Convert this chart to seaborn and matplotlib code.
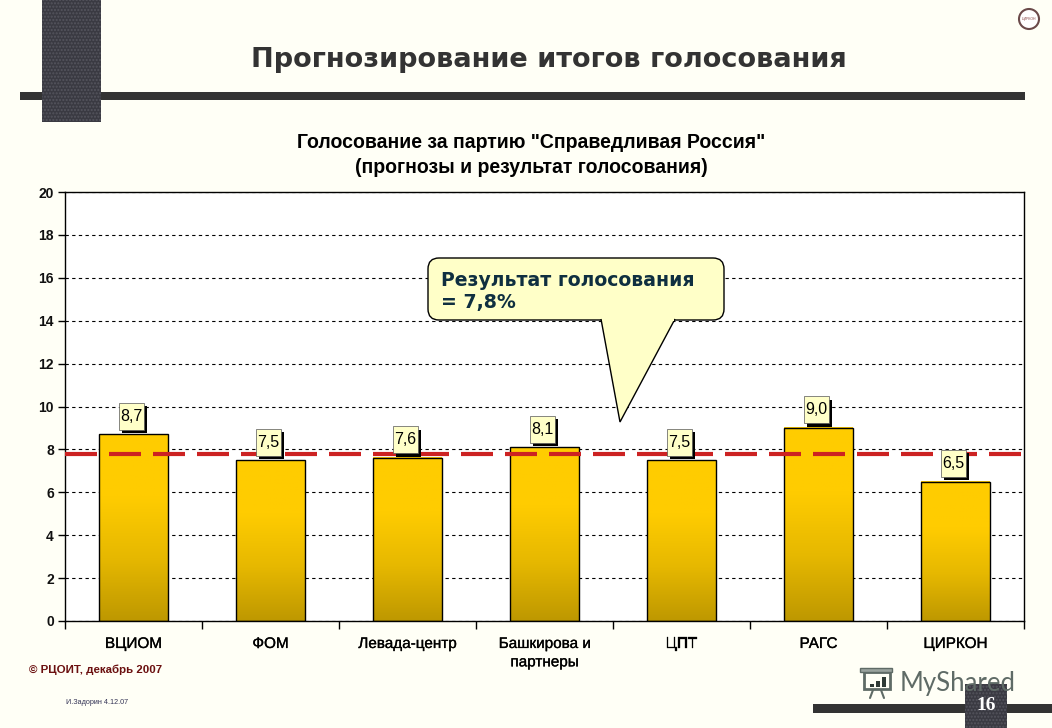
import numpy as np
import matplotlib
matplotlib.use("Agg")
import matplotlib.pyplot as plt
import matplotlib.patheffects as pe
from matplotlib.colors import LinearSegmentedColormap
from matplotlib.path import Path
from matplotlib.patches import Rectangle, FancyBboxPatch, Polygon, Circle
import seaborn as sns

#data
agencies = ["ВЦИОМ", "ФОМ", "Левада-центр", "Башкирова и\nпартнеры", "ЦПТ", "РАГС", "ЦИРКОН"]
forecasts = [8.7, 7.5, 7.6, 8.1, 7.5, 9.0, 6.5]
labels = ["8,7", "7,5", "7,6", "8,1", "7,5", "9,0", "6,5"]
vote_result = 7.8
y_ticks = [0, 2, 4, 6, 8, 10, 12, 14, 16, 18, 20]

#colours
bg = "#FFFFF6"
dark = "#333333"
note = "#FFFFC8"

sns.set_theme(style="white")
plt.rcParams["font.family"] = ["Liberation Sans", "DejaVu Sans"]


#label box, a bit taller than the text (size in pixels)
def label_box(x0, y0, width, height, mutation_size):
    cx, cy = x0 + width / 2, y0 + height / 2
    hw, hh = 12.5, 13.5
    return Path([(cx - hw, cy - hh), (cx + hw, cy - hh), (cx + hw, cy + hh),
                 (cx - hw, cy + hh), (cx - hw, cy - hh)], closed=True)


fig = plt.figure(figsize=(10.52, 7.28), dpi=100, facecolor=bg)
ax = fig.add_axes([65 / 1052, 107 / 728, 959 / 1052, 429 / 728], facecolor="white")

#bars
sns.barplot(x=agencies, y=forecasts, width=0.5, ax=ax, fill=False,
            edgecolor="black", linewidth=1, err_kws={"linewidth": 0})
ax.set_xlim(-0.5, 6.5)
ax.set_ylim(0, 20)

#gradient inside each bar
gold = LinearSegmentedColormap.from_list("gold", ["#BE9800", "#E6B800", "#FFCC00", "#FFCC00"])
grad = np.linspace(0, 1, 128).reshape(-1, 1)
for bar in ax.patches:
    x0, w, h = bar.get_x(), bar.get_width(), bar.get_height()
    ax.imshow(grad, cmap=gold, origin="lower", aspect="auto",
              extent=[x0, x0 + w, 0, h], zorder=2.5)
    bar.set_zorder(3)
ax.set_xlim(-0.5, 6.5)
ax.set_ylim(0, 20)

#axes
ax.set_yticks(y_ticks)
ax.set_xticks(np.arange(-0.5, 7), minor=True)
ax.tick_params(axis="x", which="minor", bottom=True, length=6, width=1, color="black")
ax.tick_params(axis="x", which="major", bottom=False, length=0, pad=11.5, labelsize=11)
ax.tick_params(axis="y", left=True, length=5, width=1, color="black", pad=3, labelsize=10)
for t in ax.get_yticklabels():
    t.set_fontweight("bold")
    t.set_color("#111111")
thick = [pe.withStroke(linewidth=0.2, foreground="black")]
for t in ax.get_xticklabels():
    t.set_color("black")
    t.set_linespacing(1.4)
    t.set_path_effects(thick)
ax.yaxis.grid(True, linestyle=(0, (3, 3)), color="black", linewidth=0.8)
ax.set_axisbelow(True)
for s in ax.spines.values():
    s.set_color("black")
    s.set_linewidth(1)
    s.set_visible(True)

#voting result line
ax.axhline(vote_result - 0.03, color="#CC2222", linewidth=3, linestyle=(0, (7.68, 2.88)), zorder=4)

#value labels
for i, (v, lab) in enumerate(zip(forecasts, labels)):
    a = ax.annotate(lab, (i - 0.015, v), xytext=(0, 13), textcoords="offset points",
                    ha="center", va="center", fontsize=11.5, color="black", zorder=6,
                    bbox=dict(boxstyle=label_box, fc=note, ec="#555555", lw=0.5))
    a.get_bbox_patch().set_path_effects([
        pe.SimplePatchShadow(offset=(2.5, -2.5), shadow_rgbFace="black", alpha=1),
        pe.Normal()])

ax.set_xlabel("")
ax.set_ylabel("")

#slide decoration in pixel coordinates
deco = fig.add_axes([0, 0, 1, 1], facecolor="none")
deco.set_xlim(0, 1052)
deco.set_ylim(728, 0)
deco.axis("off")

deco.add_patch(Rectangle((20, 92), 1005, 8, fc=dark, ec="none"))
deco.add_patch(Rectangle((42, 0), 59, 122, fc="#3A3A42", ec="#55555E", lw=0, hatch="....."))
deco.text(549, 60, "Прогнозирование итогов голосования", ha="center", va="center",
          fontsize=19.5, fontweight="bold", color=dark, family=["DejaVu Sans"])
deco.text(531, 155, 'Голосование за партию "Справедливая Россия"\n(прогнозы и результат голосования)',
          ha="center", va="center", fontsize=14.05, fontweight="bold", color="black",
          linespacing=1.45, family=["Liberation Sans"])

#callout
deco.add_patch(FancyBboxPatch((428, 258), 296, 62, boxstyle="round,pad=0,rounding_size=11",
                              fc=note, ec="black", lw=1))
deco.add_patch(Polygon([(601, 319), (620, 422), (675, 319)], closed=False, fc=note, ec="black", lw=1))
deco.add_patch(Rectangle((602, 317), 72, 4, fc=note, ec="none"))
deco.text(441, 291.5, "Результат голосования\n= 7,8%", ha="left", va="center", fontsize=13.6,
          fontweight="bold", color="#0F2F40", linespacing=1.25, family=["DejaVu Sans"])

#footer
deco.text(29, 670, "© РЦОИТ, декабрь 2007", ha="left", va="center", fontsize=8.25,
          fontweight="bold", color="#6B1010")
deco.text(66, 703, "И.Задорин 4.12.07", ha="left", va="center", fontsize=5.2, color="#333355")

#watermark
wm = "#5F6B66"
deco.text(900, 683, "MyShared", ha="left", va="center", fontsize=18.5, color=wm, family=["Lato"])
deco.add_patch(Rectangle((864, 672), 26, 17, fc="none", ec=wm, lw=2))
deco.add_patch(Rectangle((860, 668), 32, 4, fc="#9AA39E", ec=wm, lw=1))
for bx, bh in zip([870, 876, 882], [3, 6, 10]):
    deco.add_patch(Rectangle((bx, 687 - bh), 4, bh, fc="#2F3A35", ec="none"))
deco.plot([873, 870], [690, 698], color=wm, lw=1.5)
deco.plot([881, 884], [690, 698], color=wm, lw=1.5)

deco.add_patch(Rectangle((813, 704), 239, 9, fc=dark, ec="none"))
deco.add_patch(Rectangle((965, 684), 42, 44, fc="#3A3A42", ec="#55555E", lw=0, hatch="....."))
deco.text(986, 706, "16", ha="center", va="center", fontsize=14, fontweight="bold",
          color="white", family=["Liberation Serif"])

#logo
deco.add_patch(Circle((1029, 19), 10, fc="white", ec="#6B4A4A", lw=1.5))
deco.text(1029, 19, "ЦИРКОН", ha="center", va="center", fontsize=2.5, color="#884444")

fig.savefig("out.png", dpi=100, facecolor=bg)
